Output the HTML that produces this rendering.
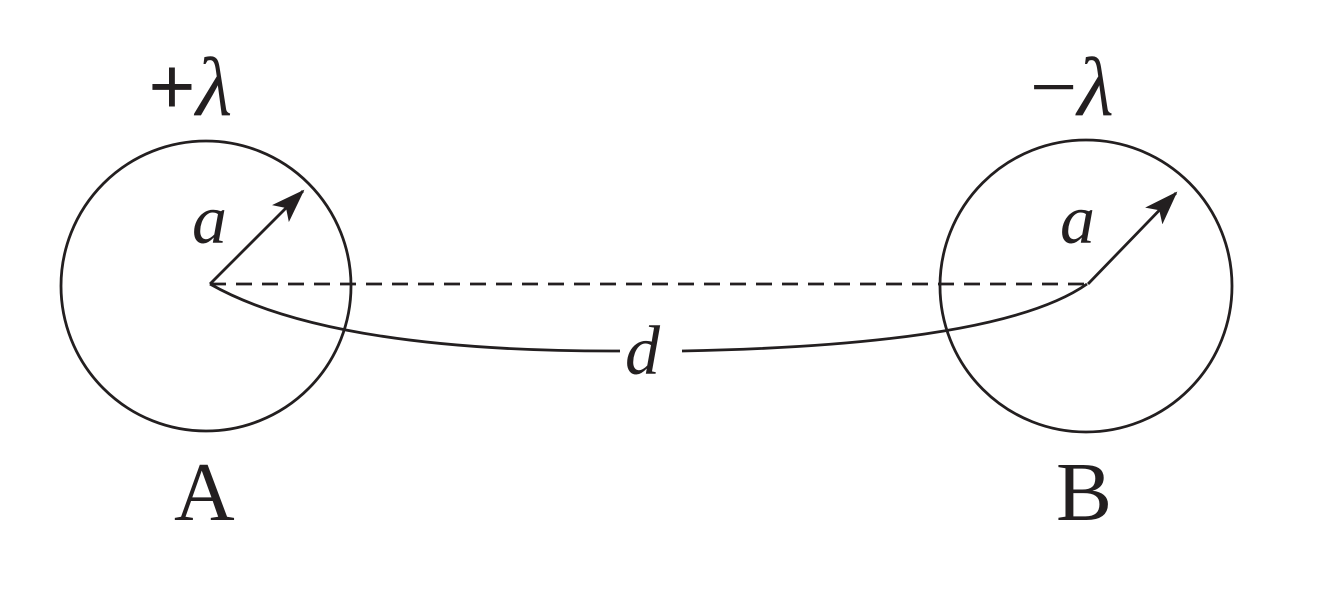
<!DOCTYPE html>
<html><head><meta charset="utf-8"><style>
html,body{margin:0;padding:0;background:#fff;}
svg text{font-family:"Liberation Serif",serif;fill:#231f20;}
</style></head><body>
<svg width="1318" height="587" viewBox="0 0 1318 587" xmlns="http://www.w3.org/2000/svg">
<defs>
<marker id="ah2" markerWidth="34" markerHeight="24" refX="32" refY="12" orient="auto" markerUnits="userSpaceOnUse">
<path d="M0,0 L34,12 L0,24 L8,12 Z" fill="#231f20"/></marker></defs>
<g stroke="#231f20" stroke-width="2.8" fill="none">
<circle cx="206" cy="286" r="145"/>
<circle cx="1086" cy="286" r="146"/>
<line x1="210" y1="284" x2="1088" y2="284" stroke-dasharray="16,10"/>
<line x1="210" y1="284" x2="303" y2="191" marker-end="url(#ah2)"/>
<line x1="1088" y1="284" x2="1176" y2="193" marker-end="url(#ah2)"/>
<path d="M210,284 Q330,352 620,351"/>
<path d="M682,351 Q1000,345 1087,284"/>
</g>
<text x="625" y="374" font-size="70" font-style="italic">d</text>
<text x="192" y="243" font-size="70" font-style="italic">a</text>
<text x="1060" y="243" font-size="70" font-style="italic">a</text>
<text x="148" y="115" font-size="84" font-weight="bold">+<tspan font-style="italic" font-weight="normal">λ</tspan></text>
<text x="1030" y="115" font-size="84">−<tspan font-style="italic">λ</tspan></text>
<text x="174" y="520" font-size="84">A</text>
<text x="1056" y="520" font-size="84">B</text>
</svg>
</body></html>
